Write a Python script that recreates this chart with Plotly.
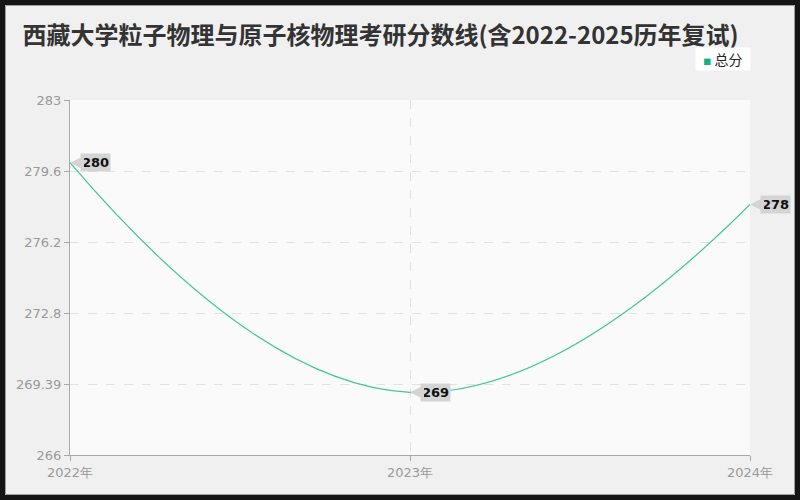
import plotly.graph_objects as go

# data
years = ['2022年', '2023年', '2024年']
scores = [280, 269, 278]
y_ticks = [266, 269.39, 272.8, 276.2, 279.6, 283]
y_tick_text = ['266', '269.39', '272.8', '276.2', '279.6', '283']
series_name = '总分'

line_color = '#3dc49c'
label_bg = '#d4d4d4'

fig = go.Figure()

fig.add_trace(go.Scatter(
    x=years, y=scores,
    mode='lines',
    name=series_name,
    line=dict(color=line_color, width=1.2, shape='spline', smoothing=1.3),
    showlegend=False,
    hoverinfo='skip'
))

# value callouts: grey box with a pointer at the point
for x, v in zip(years, scores):
    fig.add_annotation(
        x=x, y=v, text=f'<b>{v}</b>',
        showarrow=True, ax=10, ay=0, standoff=0,
        arrowhead=2, arrowsize=2.8, arrowwidth=1, arrowcolor=label_bg,
        xanchor='left', yanchor='middle',
        bgcolor=label_bg, borderpad=1,
        font=dict(family='DejaVu Sans', size=13, color='#111111')
    )

# page geometry
L, R, T, B = 70, 50, 100, 45
W, H = 800, 500
pw, ph = W - L - R, H - T - B


def px_x(p):
    return (p - L) / pw


def px_y(p):
    return (H - B - p) / ph


# compact legend box
fig.add_annotation(
    xref='paper', yref='paper', x=px_x(751), y=px_y(47),
    xanchor='right', yanchor='top', showarrow=False,
    text=(f'&nbsp;&nbsp;<span style="color:#11b37f;font-size:8px">■</span>'
          f'&nbsp;{series_name}&nbsp;&nbsp;'),
    bgcolor='#ffffff', borderpad=1,
    font=dict(family='Noto Sans CJK SC', size=14, color='#222222')
)

# dark frame around the card
fig.add_shape(type='rect', xref='paper', yref='paper',
              x0=px_x(0), x1=px_x(W), y0=px_y(H), y1=px_y(0),
              line=dict(color='#151515', width=10), fillcolor='rgba(0,0,0,0)')
fig.add_shape(type='rect', xref='paper', yref='paper',
              x0=px_x(5.5), x1=px_x(W - 5.5), y0=px_y(H - 5.5), y1=px_y(5.5),
              line=dict(color='#a0a0a0', width=1), fillcolor='rgba(0,0,0,0)')

fig.update_layout(
    width=W, height=H,
    margin=dict(l=L, r=R, t=T, b=B),
    paper_bgcolor='#f0f0f0',
    plot_bgcolor='#fafafa',
    title=dict(
        text='<b>西藏大学粒子物理与原子核物理考研分数线(含2022-2025历年复试)</b>',
        x=0.028, xanchor='left', y=0.929, yanchor='middle',
        font=dict(family='Noto Sans CJK SC', size=24, color='#333333')
    ),
    showlegend=False
)

fig.update_xaxes(
    type='category', range=[0, 2],
    showline=True, linecolor='#a8a8a8', linewidth=1,
    ticks='outside', ticklen=5, tickcolor='#a8a8a8',
    showgrid=True, gridcolor='#e2e2e2', griddash='dash',
    tickfont=dict(family='DejaVu Sans', size=13, color='#999999'),
    zeroline=False
)
fig.update_yaxes(
    range=[266, 283],
    tickvals=y_ticks, ticktext=y_tick_text,
    showline=True, linecolor='#a8a8a8', linewidth=1,
    ticks='outside', ticklen=5, tickcolor='#a8a8a8',
    showgrid=True, gridcolor='#e2e2e2', griddash='dash',
    tickfont=dict(family='DejaVu Sans', size=13, color='#999999'),
    zeroline=False
)

fig.write_html('out.html', config={'displayModeBar': False},
               post_script="document.body.style.margin='0';")
